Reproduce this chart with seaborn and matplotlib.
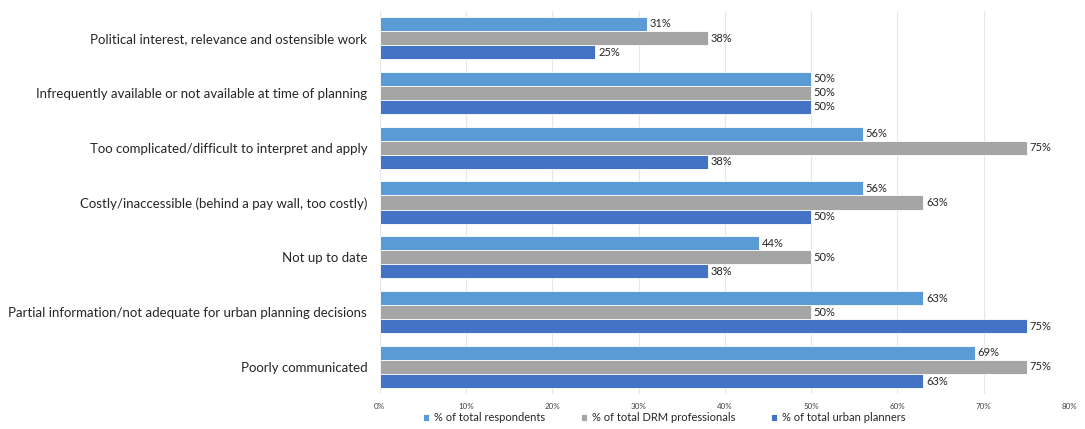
import matplotlib
matplotlib.use("Agg")
import matplotlib.pyplot as plt
import seaborn as sns
import pandas as pd

categories = [
    "Political interest, relevance and ostensible work",
    "Infrequently available or not available at time of planning",
    "Too complicated/difficult to interpret and apply",
    "Costly/inaccessible (behind a pay wall, too costly)",
    "Not up to date",
    "Partial information/not adequate for urban planning decisions",
    "Poorly communicated",
]
respondents = [31, 50, 56, 56, 44, 63, 69]
drm = [38, 50, 75, 63, 50, 50, 75]
planners = [25, 50, 38, 50, 38, 75, 63]
series = ["% of total respondents", "% of total DRM professionals", "% of total urban planners"]
colors = ["#5B9BD5", "#A5A5A5", "#4472C4"]
xticks = [0, 10, 20, 30, 40, 50, 60, 70, 80]

rows = []
for name, vals in zip(series, [respondents, drm, planners]):
    for c, v in zip(categories, vals):
        rows.append({"category": c, "series": name, "value": v})
df = pd.DataFrame(rows)

sns.set_style("white")
plt.rcParams["font.family"] = ["Lato", "DejaVu Sans"]

fig = plt.figure(figsize=(10.85, 4.29), dpi=100)
ax = fig.add_axes([0.350, 0.0807, 0.636, 0.8946])
sns.barplot(data=df, y="category", x="value", hue="series", order=categories,
            hue_order=series, palette=colors, width=0.77, orient="h",
            edgecolor="white", linewidth=0.6, ax=ax, saturation=1, legend=True)

for cont in ax.containers:
    ax.bar_label(cont, labels=[f"{int(round(w))}%" for w in cont.datavalues],
                 padding=2, fontsize=8, color="#262626")

ax.set_xlim(0, 80)
ax.set_xticks(xticks)
ax.set_xticklabels([f"{t}%" for t in xticks], fontsize=5.8, color="#404040")
ax.tick_params(axis="y", labelsize=9.5, colors="#262626", length=0, pad=9)
ax.tick_params(axis="x", length=0, pad=6)
ax.set_xlabel("")
ax.set_ylabel("")
ax.grid(axis="x", color="#E6E6E6", linewidth=0.8)
ax.set_axisbelow(True)
for s in ax.spines.values():
    s.set_visible(False)

handles, labels = ax.get_legend_handles_labels()
ax.legend_.remove()
fig.legend(handles, labels, loc="lower center", bbox_to_anchor=(0.612, -0.01), ncol=3,
           frameon=False, fontsize=8, handlelength=0.6, handleheight=0.6,
           columnspacing=3.2, handletextpad=0.4)

fig.savefig("out.png", dpi=100)
